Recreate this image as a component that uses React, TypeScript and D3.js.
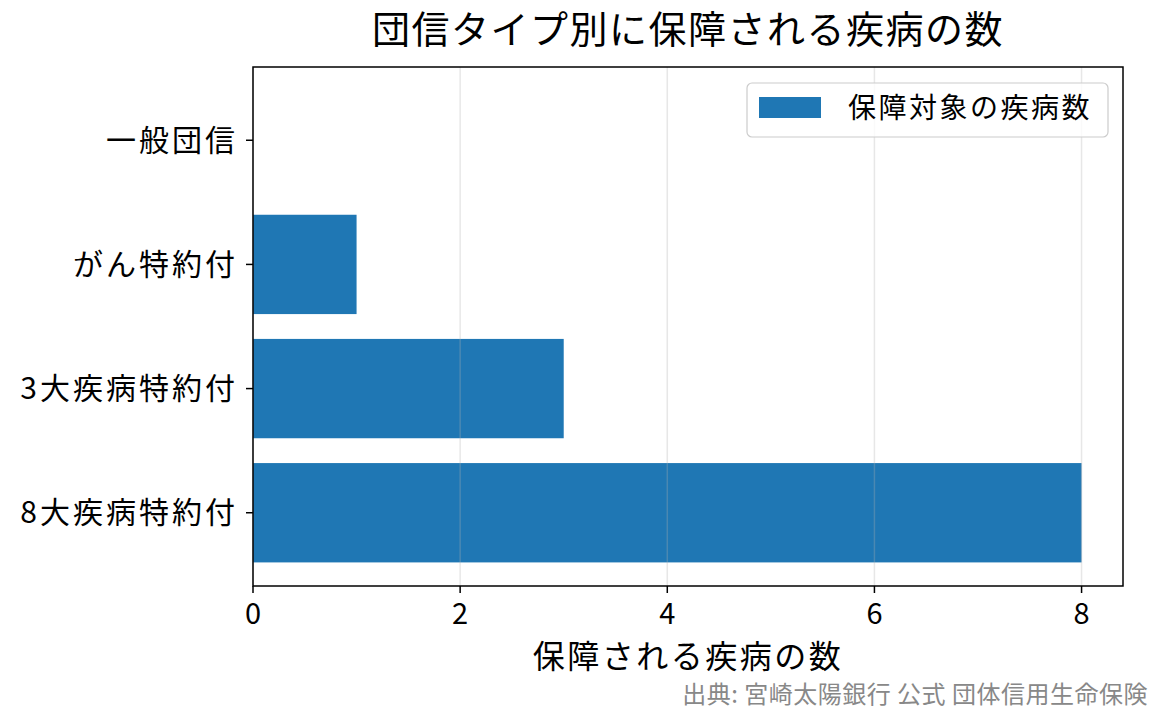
import React from 'react';
import * as d3 from 'd3';

const categories = ['一般団信', 'がん特約付', '3大疾病特約付', '8大疾病特約付'];
const diseaseCounts = [0, 1, 3, 8];
const xTicks = [0, 2, 4, 6, 8];
const seriesName = '保障対象の疾病数';
const chartTitle = '団信タイプ別に保障される疾病の数';
const xLabel = '保障される疾病の数';
const sourceNote = '出典: 宮崎太陽銀行 公式 団体信用生命保険';

const W = 1165;
const H = 725;
const margin = { top: 67, right: 42, bottom: 139, left: 253 };
const FONT = '"Noto Sans CJK JP", "Noto Sans", sans-serif';
const BLUE = '#1f77b4';

const App: React.FC = () => {
    const innerW = W - margin.left - margin.right;
    const innerH = H - margin.top - margin.bottom;

    const x = d3.scaleLinear().domain([0, 8.4]).range([0, innerW]);
    // matplotlib-like categorical axis: bars height 0.8, margins 5%
    const y = d3.scaleLinear().domain([-0.59, 3.59]).range([0, innerH]);
    const barH = y(0.4) - y(-0.4);

    return (
        <svg width={W} height={H} style={{ position: 'absolute', left: 0, top: 0, background: '#fff' }} fontFamily={FONT}>
            <text x={margin.left + innerW / 2} y={43} textAnchor="middle" fontSize={38} letterSpacing={1.5} fill="#000">{chartTitle}</text>
            <g transform={`translate(${margin.left},${margin.top})`}>
                {categories.map((c, i) => (
                    <rect key={c} x={x(0)} y={y(i) - barH / 2} width={x(diseaseCounts[i]) - x(0)} height={barH} fill={BLUE} />
                ))}
                {xTicks.map(t => (
                    <line key={t} x1={x(t)} x2={x(t)} y1={0} y2={innerH} stroke="#b0b0b0" strokeOpacity={0.3} strokeWidth={1.5} />
                ))}
                <rect x={0} y={0} width={innerW} height={innerH} fill="none" stroke="#000" strokeWidth={1.5} />
                {xTicks.map(t => (
                    <g key={t} transform={`translate(${x(t)},${innerH})`}>
                        <line y1={0} y2={7} stroke="#000" strokeWidth={1.5} />
                        <text y={38} textAnchor="middle" fontSize={29} fill="#000">{t}</text>
                    </g>
                ))}
                {categories.map((c, i) => (
                    <g key={c} transform={`translate(0,${y(i)})`}>
                        <line x1={0} x2={-7} stroke="#000" strokeWidth={1.5} />
                        <text x={-15} dy="0.35em" textAnchor="end" fontSize={30} letterSpacing={3} fill="#000">{c}</text>
                    </g>
                ))}
                <g transform={`translate(${innerW - 376},16)`}>
                    <rect x={0} y={0} width={361} height={54} rx={5} fill="#fff" fillOpacity={0.8} stroke="#cccccc" strokeWidth={1.2} />
                    <rect x={12} y={14} width={62} height={21} fill={BLUE} />
                    <text x={101} y={25} dy="0.35em" fontSize={28} letterSpacing={2.5} fill="#000">{seriesName}</text>
                </g>
            </g>
            <text x={margin.left + innerW / 2} y={668} textAnchor="middle" fontSize={32} letterSpacing={2.5} fill="#000">{xLabel}</text>
            <text x={1148} y={703} textAnchor="end" fontSize={24} letterSpacing={0.5} fill="#888">{sourceNote}</text>
        </svg>
    );
};

export default App;
